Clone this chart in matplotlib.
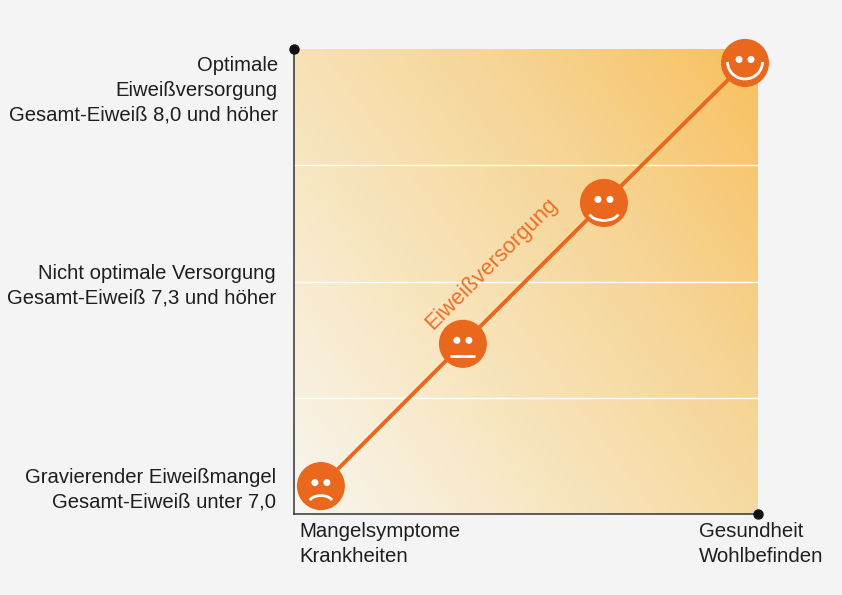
import numpy as np
import matplotlib
matplotlib.use("Agg")
import matplotlib.pyplot as plt
from matplotlib.colors import LinearSegmentedColormap
from matplotlib.patches import Circle, Arc

plt.rcParams['font.family'] = ['Liberation Sans', 'DejaVu Sans']

# data
supply_x = [5.8, 36.4, 66.8, 97.2]
supply_y = [6.0, 36.6, 66.9, 97.0]
moods = ['sad', 'neutral', 'smile', 'big']
band_edges = [25, 50, 75]
series_label = 'Eiweißversorgung'
y_labels = ['Gravierender Eiweißmangel\nGesamt-Eiweiß unter 7,0',
            'Nicht optimale Versorgung\nGesamt-Eiweiß 7,3 und höher',
            'Optimale\nEiweißversorgung\nGesamt-Eiweiß 8,0 und höher']
y_label_pos = [5.2, 49.1, 91.1]
y_label_right = [-3.9, -3.9, -3.5]
x_labels = ['Mangelsymptome\nKrankheiten', 'Gesundheit\nWohlbefinden']
x_label_pos = [1.2, 87.2]

W, H = 842, 595
ORANGE = '#ea671e'
BG = '#f4f4f4'
fig = plt.figure(figsize=(W/100, H/100), dpi=100, facecolor=BG)
ax = fig.add_axes([294/W, 1-514/H, 464/W, 465/H])
ax.set_xlim(0, 100); ax.set_ylim(0, 100)
ax.set_facecolor(BG)

cmap = LinearSegmentedColormap.from_list('g', ['#f8f6f0', '#f8e6c0', '#f6d596', '#f9c05f'])
gx, gy = np.meshgrid(np.linspace(0, 1, 200), np.linspace(0, 1, 200))
ax.imshow((gx*0.58+gy*0.42), origin='lower', extent=(0, 100, 0, 100), cmap=cmap,
          vmin=0, vmax=1, aspect='auto', zorder=0)

for b in band_edges:
    ax.axhline(b, color='white', lw=1, zorder=1)

for s in ('top', 'right'):
    ax.spines[s].set_visible(False)
for s in ('left', 'bottom'):
    ax.spines[s].set_linewidth(1.1)
    ax.spines[s].set_color('#333333')
ax.set_xticks([]); ax.set_yticks([])

ax.plot(supply_x, supply_y, color=ORANGE, lw=2.8, zorder=2, clip_on=False)

# axis end dots
ax.plot([0], [100], 'o', color='#111111', ms=6.5, clip_on=False, zorder=3)
ax.plot([100], [0], 'o', color='#111111', ms=6.5, clip_on=False, zorder=3)

sx = 100/464; sy = 100/465  # data units per pixel
for x, y, m in zip(supply_x, supply_y, moods):
    ax.add_patch(Circle((x, y), 24*sx, fc=ORANGE, ec='none', zorder=4, clip_on=False))
    for d in (-6, 6):
        ax.add_patch(Circle((x+d*sx, y+3.5*sy), 3.5*sx, fc='white', ec='none', zorder=5, clip_on=False))
    kw = dict(color='white', lw=2.0, zorder=5, clip_on=False)
    if m == 'sad':
        ax.add_patch(Arc((x, y-16*sy), 23*sx, 13*sy, theta1=10, theta2=170, **kw))
    elif m == 'neutral':
        ax.plot([x-12.5*sx, x+12.5*sx], [y-12*sy, y-12*sy], color='white', lw=2.0, zorder=5,
                solid_capstyle='butt')
    elif m == 'smile':
        ax.add_patch(Arc((x, y-9*sy), 30*sx, 17*sy, theta1=190, theta2=350, **kw))
    else:
        ax.add_patch(Arc((x, y+1*sy), 35*sx, 34*sy, theta1=180, theta2=360, **kw))

ax.text(42.5, 53.8, series_label, color=ORANGE, fontsize=15.9, rotation=45, rotation_mode='anchor',
        ha='center', va='center', zorder=3, alpha=0.92)

for lab, y, r in zip(y_labels, y_label_pos, y_label_right):
    ax.text(r, y, lab, ha='right', va='center', fontsize=14.55, color='#1e1e1e', linespacing=1.38,
            multialignment='right', clip_on=False)
for lab, x in zip(x_labels, x_label_pos):
    ax.text(x, -1.75, lab, ha='left', va='top', fontsize=14.7, color='#1e1e1e', linespacing=1.38,
            clip_on=False)

fig.savefig('out.png', dpi=100, facecolor=BG)
